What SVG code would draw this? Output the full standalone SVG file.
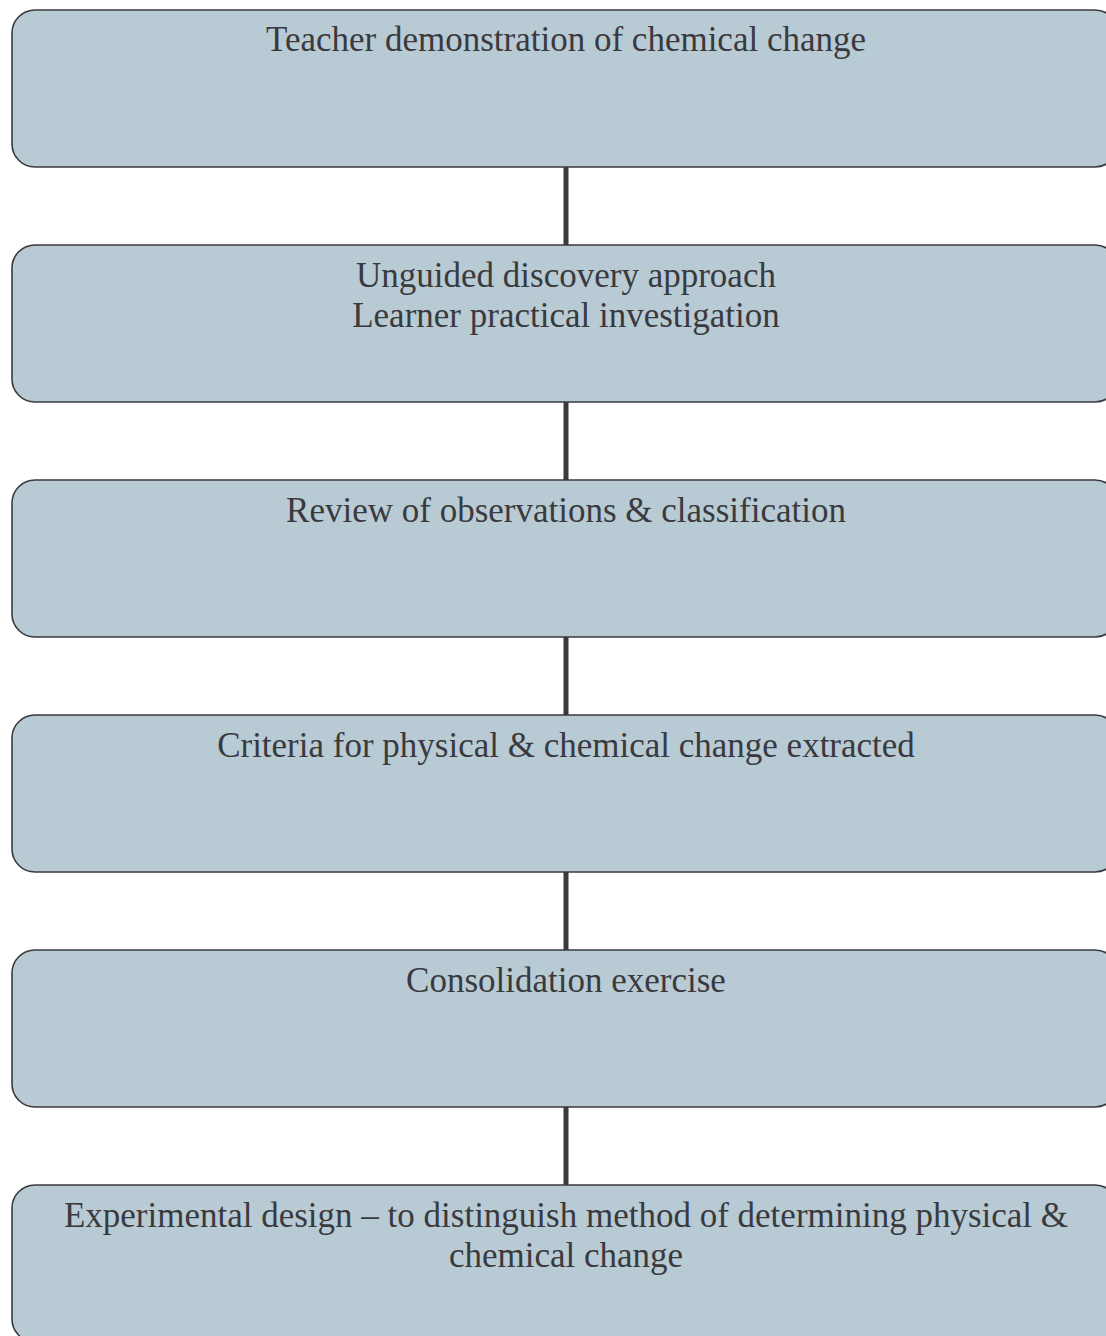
<svg xmlns="http://www.w3.org/2000/svg" width="1106" height="1336" viewBox="0 0 1106 1336">
<style>
.box{fill:#b8cad4;stroke:#3a3a3e;stroke-width:1.6}
.t{font-family:"Liberation Serif","Times New Roman",serif;font-size:35px;fill:#3a3a3e;text-anchor:middle}
.c{stroke:#3a3a3e;stroke-width:5}
</style>
<rect width="1106" height="1336" fill="#ffffff"/>
<g id="connectors">
<line class="c" x1="566" y1="167" x2="566" y2="245"/>
<line class="c" x1="566" y1="402" x2="566" y2="480"/>
<line class="c" x1="566" y1="637" x2="566" y2="715"/>
<line class="c" x1="566" y1="872" x2="566" y2="950"/>
<line class="c" x1="566" y1="1107" x2="566" y2="1185"/>
</g>
<g id="n1"><rect class="box" x="12" y="10" width="1106" height="157" rx="23"/><text class="t" x="566" y="51">Teacher demonstration of chemical change</text></g>
<g id="n2"><rect class="box" x="12" y="245" width="1106" height="157" rx="23"/><text class="t" x="566" y="287">Unguided discovery approach</text><text class="t" x="566" y="327">Learner practical investigation</text></g>
<g id="n3"><rect class="box" x="12" y="480" width="1106" height="157" rx="23"/><text class="t" x="566" y="522">Review of observations &amp; classification</text></g>
<g id="n4"><rect class="box" x="12" y="715" width="1106" height="157" rx="23"/><text class="t" x="566" y="757">Criteria for physical &amp; chemical change extracted</text></g>
<g id="n5"><rect class="box" x="12" y="950" width="1106" height="157" rx="23"/><text class="t" x="566" y="992">Consolidation exercise</text></g>
<g id="n6"><rect class="box" x="12" y="1185" width="1106" height="157" rx="23"/><text class="t" x="566" y="1227">Experimental design – to distinguish method of determining physical &amp;</text><text class="t" x="566" y="1267">chemical change</text></g>
</svg>
